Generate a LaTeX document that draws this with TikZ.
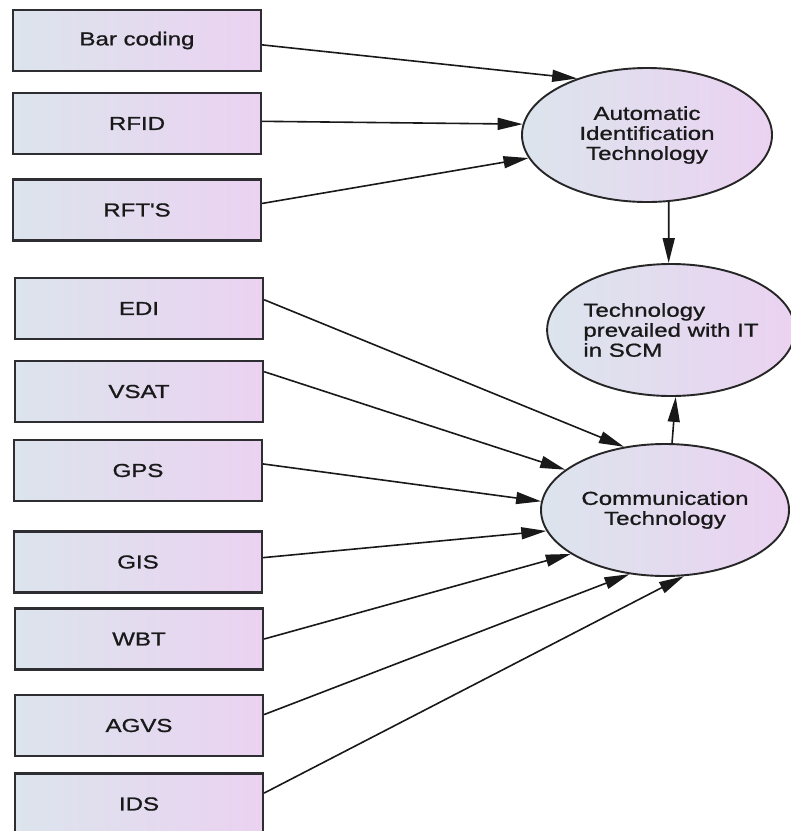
\documentclass[tikz,border=0pt]{standalone}
\usepackage{fontspec}
\newfontfamily\labelfont[FakeStretch=1.28,FakeBold=1]{Liberation Sans}
\usetikzlibrary{arrows.meta,shapes.geometric}
\definecolor{fillL}{RGB}{220,228,237}
\definecolor{fillR}{RGB}{235,210,241}
\definecolor{edge}{RGB}{45,45,50}
\tikzset{
  itembox/.style={rectangle, draw=edge, line width=2.3pt, left color=fillL, right color=fillR,
    minimum width=248pt, minimum height=61pt, inner sep=0pt,
    font=\labelfont\fontsize{18.8}{20}\selectfont, text=black!90},
  latent/.style={ellipse, draw=black!85, line width=1.9pt, left color=fillL, right color=fillR,
    inner sep=0pt, align=center,
    font=\labelfont\fontsize{18.8}{20}\selectfont, text=black!90},
  link/.style={line width=1.6pt, black!90, -{Triangle[length=25pt,width=12pt]}}
}
\begin{document}
\begin{tikzpicture}[x=1pt,y=-1pt]
\useasboundingbox (0,0) rectangle (791,831);
\clip (0,0) rectangle (791,831);
\fill[white] (0,0) rectangle (791,831);
% left boxes
\node[itembox] (bar)  at (137,40.5)  {Bar coding};
\node[itembox] (rfid) at (137,123.5) {RFID};
\node[itembox] (rfts) at (137,210)   {RFT'S};
\node[itembox] (edi)  at (139,308.5) {EDI};
\node[itembox] (vsat) at (139,391.5) {VSAT};
\node[itembox] (gps)  at (138,470.5) {GPS};
\node[itembox] (gis)  at (138,562)   {GIS};
\node[itembox] (wbt)  at (139,639)   {WBT};
\node[itembox] (agvs) at (139,725.5) {AGVS};
\node[itembox] (ids)  at (139,804)   {IDS};
% ellipses
\node[latent, minimum width=250pt, minimum height=134pt] (ait) at (647,135)
  {Automatic\\Identification\\Technology};
\node[latent, minimum width=240pt, minimum height=132pt, align=left] (tp) at (671,330)
  {Technology\\prevailed with IT\\in SCM};
\node[latent, minimum width=248pt, minimum height=132pt] (ct) at (665,510)
  {Communication\\Technology};
% connectors
\draw[link] (bar.358.8) -- (ait.141.6);
\draw[link] (rfid.1.4)  -- (ait.175.4);
\draw[link] (rfts.3.2)  -- (ait.191.6);
\draw[link] (ait.288)   -- (tp.92);
\draw[link] (ct.84)     -- (tp.274);
\draw[link] (edi.4.8)   -- (ct.123.7);
\draw[link] (vsat.9)    -- (ct.158.1);
\draw[link] (gps.3.5)   -- (ct.176.4);
\draw[link] (gis.2.3)   -- (ct.190.7);
\draw[link] (wbt.east)  -- (ct.205.1);
\draw[link] (agvs.5.3)  -- (ct.241.7);
\draw[link] (ids.5.1)   -- (ct.286.9);
\end{tikzpicture}
\end{document}
